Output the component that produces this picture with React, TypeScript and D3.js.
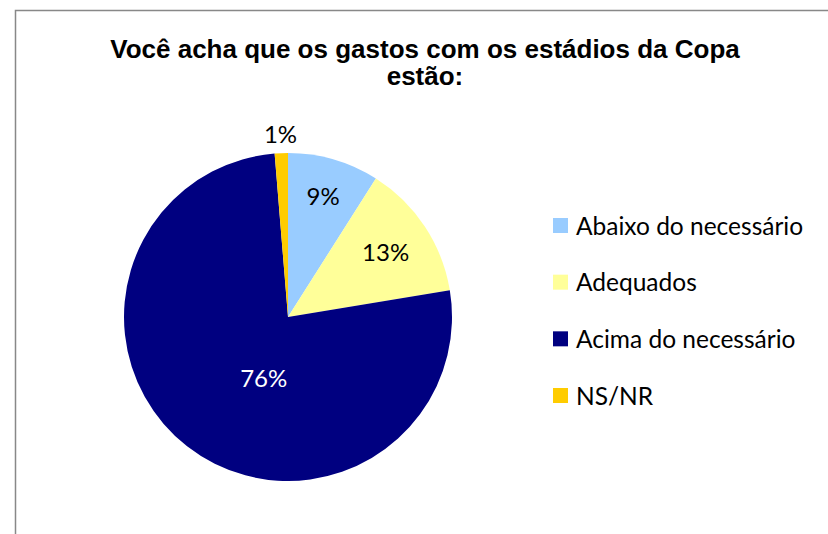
import React from "react";
import * as d3 from "d3";

const categories = ["Abaixo do necessário", "Adequados", "Acima do necessário", "NS/NR"];
const values = [9.0, 13.4, 76.3, 1.3];
const labels = ["9%", "13%", "76%", "1%"];
const colors = ["#99CCFF", "#FFFF99", "#000080", "#FFCC00"];
const titleLines = ["Você acha que os gastos com os estádios da Copa", "estão:"];

export default function App() {
  const W = 828, H = 534;
  const cx = 288, cy = 317, r = 164;
  const pie = d3.pie<number>().sort(null).value((d) => d);
  const arcs = pie(values);
  const arc = d3.arc<d3.PieArcDatum<number>>().innerRadius(0).outerRadius(r);
  const labelRadius = [126, 117, 66, 183];
  const labelShift = [0, 0, -0.285, 0];
  const labelPos: [number, number][] = arcs.map((a, i) => {
    const m = (a.startAngle + a.endAngle) / 2 + labelShift[i];
    const rr = labelRadius[i];
    return [Math.sin(m) * rr, -Math.cos(m) * rr];
  });
  const legendY = d3.scalePoint<string>().domain(categories).range([226, 396]);
  const font = "Lato, 'Open Sans', sans-serif";
  return (
    <svg width={W} height={H} style={{ position: "absolute", left: 0, top: 0 }}>
      <rect x={0} y={0} width={W} height={H} fill="#fff" />
      <path d={`M15.5,${H} L15.5,10.5 L${W},10.5`} fill="none" stroke="#888" strokeWidth={1.5} />
      {titleLines.map((t, i) => (
        <text key={i} x={425} y={58 + i * 27} textAnchor="middle" fontFamily="'Liberation Sans', Arial, sans-serif" fontWeight="bold" fontSize={26}>
          {t}
        </text>
      ))}
      <g transform={`translate(${cx},${cy})`}>
        {arcs.map((a, i) => (
          <path key={i} d={arc(a) || ""} fill={colors[i]} />
        ))}
        {arcs.map((a, i) => (
          <text key={i} x={labelPos[i][0]} y={labelPos[i][1]} dy="0.36em" textAnchor="middle" fontFamily={font} fontSize={24} fill={i === 2 ? "#fff" : "#000"}>
            {labels[i]}
          </text>
        ))}
      </g>
      {categories.map((c, i) => (
        <g key={c} transform={`translate(553,${legendY(c)})`}>
          <rect x={0} y={-8} width={15} height={15} fill={colors[i]} />
          <text x={23} y={0} dy="0.36em" fontFamily={font} fontSize={24.5} fill="#000">
            {c}
          </text>
        </g>
      ))}
    </svg>
  );
}
